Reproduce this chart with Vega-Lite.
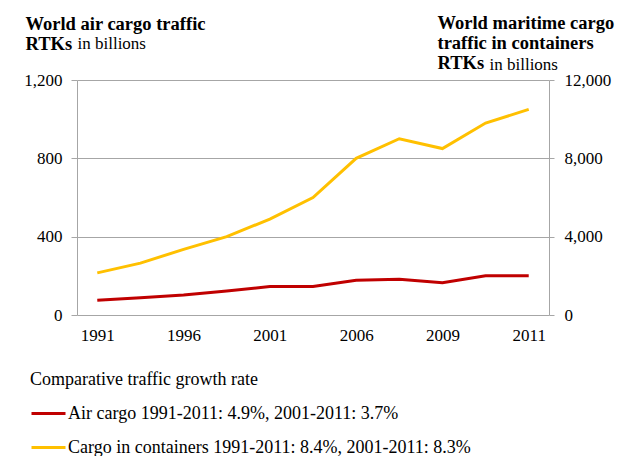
{
  "$schema": "https://vega.github.io/schema/vega-lite/v6.json",
  "width": 472,
  "height": 235,
  "autosize": "none",
  "padding": {"left": 77, "top": 80, "right": 78, "bottom": 141},
  "background": "white",
  "config": {
    "font": "Liberation Serif",
    "view": {"stroke": null},
    "axis": {"labelColor": "#000", "titleColor": "#000", "gridColor": "#a6a6a6", "domainColor": "#a6a6a6", "tickColor": "#a6a6a6", "labelFontSize": 17, "labelFont": "Liberation Serif", "titleFont": "Liberation Serif"}
  },
  "data": {
    "values": [
      {"year": "1991", "series": "Air cargo 1991-2011: 4.9%, 2001-2011: 3.7%", "value": 75},
      {"year": "1994", "series": "Air cargo 1991-2011: 4.9%, 2001-2011: 3.7%", "value": 88},
      {"year": "1996", "series": "Air cargo 1991-2011: 4.9%, 2001-2011: 3.7%", "value": 102},
      {"year": "1999", "series": "Air cargo 1991-2011: 4.9%, 2001-2011: 3.7%", "value": 122},
      {"year": "2001", "series": "Air cargo 1991-2011: 4.9%, 2001-2011: 3.7%", "value": 145},
      {"year": "2004", "series": "Air cargo 1991-2011: 4.9%, 2001-2011: 3.7%", "value": 145},
      {"year": "2006", "series": "Air cargo 1991-2011: 4.9%, 2001-2011: 3.7%", "value": 178},
      {"year": "2008", "series": "Air cargo 1991-2011: 4.9%, 2001-2011: 3.7%", "value": 182},
      {"year": "2009", "series": "Air cargo 1991-2011: 4.9%, 2001-2011: 3.7%", "value": 165},
      {"year": "2010", "series": "Air cargo 1991-2011: 4.9%, 2001-2011: 3.7%", "value": 200},
      {"year": "2011", "series": "Air cargo 1991-2011: 4.9%, 2001-2011: 3.7%", "value": 200},
      {"year": "1991", "series": "Cargo in containers 1991-2011: 8.4%, 2001-2011: 8.3%", "value": 2150},
      {"year": "1994", "series": "Cargo in containers 1991-2011: 8.4%, 2001-2011: 8.3%", "value": 2650},
      {"year": "1996", "series": "Cargo in containers 1991-2011: 8.4%, 2001-2011: 8.3%", "value": 3350},
      {"year": "1999", "series": "Cargo in containers 1991-2011: 8.4%, 2001-2011: 8.3%", "value": 4000},
      {"year": "2001", "series": "Cargo in containers 1991-2011: 8.4%, 2001-2011: 8.3%", "value": 4900},
      {"year": "2004", "series": "Cargo in containers 1991-2011: 8.4%, 2001-2011: 8.3%", "value": 6000},
      {"year": "2006", "series": "Cargo in containers 1991-2011: 8.4%, 2001-2011: 8.3%", "value": 8000},
      {"year": "2008", "series": "Cargo in containers 1991-2011: 8.4%, 2001-2011: 8.3%", "value": 9000},
      {"year": "2009", "series": "Cargo in containers 1991-2011: 8.4%, 2001-2011: 8.3%", "value": 8500},
      {"year": "2010", "series": "Cargo in containers 1991-2011: 8.4%, 2001-2011: 8.3%", "value": 9800},
      {"year": "2011", "series": "Cargo in containers 1991-2011: 8.4%, 2001-2011: 8.3%", "value": 10500}
    ]
  },
  "layer": [
    {
      "transform": [{"filter": "datum.series == 'Air cargo 1991-2011: 4.9%, 2001-2011: 3.7%'"}],
      "mark": {"type": "line", "strokeWidth": 3},
      "encoding": {
        "x": {
          "field": "year", "type": "ordinal", "sort": null,
          "scale": {"type": "point", "padding": 0.47},
          "axis": {
            "orient": "bottom", "values": ["1991", "1996", "2001", "2006", "2009", "2011"],
            "labelAngle": 0, "domain": false, "ticks": false, "grid": false, "labelPadding": 12,
            "title": "in billions", "titleX": 0, "titleY": -267, "titleAlign": "left", "titleBaseline": "alphabetic",
            "titleAngle": 0, "titleFontWeight": "normal", "titleFontSize": 17
          }
        },
        "y": {
          "field": "value", "type": "quantitative",
          "scale": {"domain": [0, 1200]},
          "axis": {
            "orient": "left", "values": [0, 400, 800, 1200], "format": ",d", "grid": true,
            "tickSize": 6, "labelPadding": 9,
            "title": ["World air cargo traffic", "RTKs"], "titleAngle": 0, "titleAlign": "left", "titleBaseline": "alphabetic",
            "titleX": -52, "titleY": -51, "titleFontSize": 18.5, "titleFontWeight": "bold", "titleLineHeight": 20
          }
        },
        "color": {
          "field": "series", "type": "nominal",
          "scale": {
            "domain": ["Air cargo 1991-2011: 4.9%, 2001-2011: 3.7%", "Cargo in containers 1991-2011: 8.4%, 2001-2011: 8.3%"],
            "range": ["#c00000", "#ffc000"]
          },
          "legend": {
            "orient": "none", "legendX": -47, "legendY": 291, "padding": 0,
            "title": "Comparative traffic growth rate", "titleFontSize": 18, "titleFontWeight": "normal", "titleColor": "#000",
            "titleFont": "Liberation Serif", "titlePadding": 6, "titleLimit": 600,
            "labelFontSize": 18, "labelColor": "#000", "labelFont": "Liberation Serif", "labelLimit": 600, "labelOffset": 1,
            "symbolType": "stroke", "symbolSize": 1156, "symbolStrokeWidth": 3, "rowPadding": 6
          }
        }
      }
    },
    {
      "transform": [{"filter": "datum.series == 'Cargo in containers 1991-2011: 8.4%, 2001-2011: 8.3%'"}],
      "mark": {"type": "line", "strokeWidth": 3},
      "encoding": {
        "x": {
          "field": "year", "type": "ordinal", "sort": null,
          "scale": {"type": "point", "padding": 0.47},
          "axis": {
            "orient": "top", "labels": false, "domain": false, "ticks": false, "grid": false,
            "title": "in billions", "titleX": 412, "titleY": -11, "titleAlign": "left", "titleBaseline": "alphabetic",
            "titleAngle": 0, "titleFontWeight": "normal", "titleFontSize": 17
          }
        },
        "y": {
          "field": "value", "type": "quantitative",
          "scale": {"domain": [0, 12000]},
          "axis": {
            "orient": "right", "values": [0, 4000, 8000, 12000], "format": ",d", "grid": false,
            "tickSize": 5, "labelPadding": 10,
            "title": ["World maritime cargo", "traffic  in containers", "RTKs"], "titleAngle": 0, "titleAlign": "left", "titleBaseline": "alphabetic",
            "titleX": -112, "titleY": -51.5, "titleFontSize": 18.5, "titleFontWeight": "bold", "titleLineHeight": 20
          }
        },
        "color": {"field": "series", "type": "nominal"}
      }
    }
  ],
  "resolve": {"scale": {"y": "independent"}, "axis": {"x": "independent", "y": "independent"}}
}
